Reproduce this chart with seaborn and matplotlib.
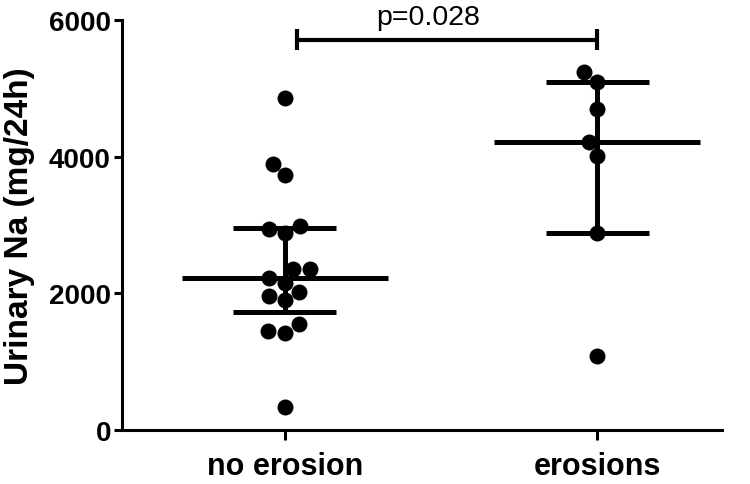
import numpy as np
import pandas as pd
import matplotlib
matplotlib.use('Agg')
import matplotlib.pyplot as plt
import seaborn as sns

groups = ['no erosion', 'erosions']
no_erosion = [4858, 3892, 3731, 2985, 2941, 2882, 2355, 2355, 2224, 2150,
              2019, 1960, 1902, 1550, 1448, 1419, 336]
erosions = [5237, 5091, 4696, 4213, 4008, 2882, 1082]
p_text = 'p=0.028'

df = pd.DataFrame({
    'group': [groups[0]] * len(no_erosion) + [groups[1]] * len(erosions),
    'na': no_erosion + erosions,
})

sns.set_style('ticks')
plt.rcParams['font.family'] = ['Liberation Sans', 'DejaVu Sans']
plt.rcParams.update({'text.color': 'black', 'axes.labelcolor': 'black',
                     'axes.edgecolor': 'black', 'xtick.color': 'black',
                     'ytick.color': 'black'})

fig = plt.figure(figsize=(7.5, 4.85), dpi=100)
ax = fig.add_axes([0.1627, 0.1113, 0.8, 0.8454])

sns.swarmplot(data=df, x='group', y='na', order=groups, color='black',
              size=11.5, ax=ax, zorder=2)

# median with interquartile range (Prism style quartiles)
lw = 3.6
for i, vals in enumerate([no_erosion, erosions]):
    q1, med, q3 = np.percentile(vals, [25, 50, 75], method='weibull')
    ax.hlines(med, i - 0.33, i + 0.33, color='black', lw=lw, zorder=3)
    ax.hlines([q1, q3], i - 0.165, i + 0.165, color='black', lw=lw, zorder=3)
    ax.vlines(i, q1, q3, color='black', lw=lw, zorder=3)

# significance bracket
ax.plot([0.04, 1.0], [5706, 5706], color='black', lw=3, clip_on=False)
ax.vlines([0.04, 1.0], 5560, 5867, color='black', lw=3, clip_on=False)
ax.text(0.46, 5940, p_text, ha='center', va='baseline', fontsize=20.5,
        color='black')

ax.set_xlim(-0.522, 1.40)
ax.set_ylim(0, 6000)
ax.set_yticks([0, 2000, 4000, 6000])
sns.despine(ax=ax)
for s in ['left', 'bottom']:
    ax.spines[s].set_linewidth(2.2)
    ax.spines[s].set_color('black')
ax.tick_params(axis='both', width=2.2, color='black', labelcolor='black')
ax.tick_params(axis='y', length=6, pad=2, labelsize=20)
ax.tick_params(axis='x', length=7, pad=8, labelsize=22)
for lab in ax.get_xticklabels() + ax.get_yticklabels():
    lab.set_fontweight('bold')

ax.set_xlabel('')
ax.set_ylabel('Urinary Na (mg/24h)', fontsize=24, fontweight='bold',
              color='black')
ax.yaxis.set_label_coords(-0.145, 0.5)

fig.savefig('out.png', dpi=100)
